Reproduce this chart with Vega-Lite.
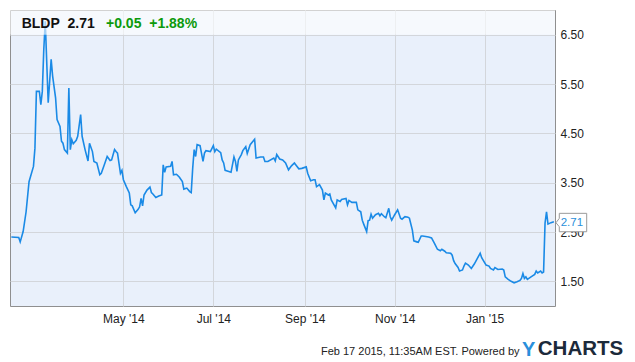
{
  "$schema": "https://vega.github.io/schema/vega-lite/v6.json",
  "width": 545,
  "height": 296,
  "autosize": {"type": "none"},
  "padding": {"left": 10, "top": 10, "right": 80, "bottom": 56},
  "background": "white",
  "title": {"text": "Y", "orient": "top", "anchor": "start", "frame": "group", "offset": 0, "dx": 512, "dy": 366, "baseline": "alphabetic", "fontSize": 20, "fontWeight": "bold", "color": "#2a8fdb", "font": "Liberation Sans"},
  "config": {
    "font": "Liberation Sans",
    "view": {"fill": "#e9f0fb", "stroke": "#8f8f8f", "strokeWidth": 1},
    "axis": {"domain": false, "ticks": false, "tickSize": 0, "gridColor": "#d3d6db", "gridWidth": 1, "labelColor": "#222222", "labelFontSize": 12, "labelFont": "Liberation Sans"}
  },
  "layer": [
    {
      "data": {"values": [
        {"d":"2014-02-14","v":2.40},{"d":"2014-02-19","v":2.39},{"d":"2014-02-20","v":2.30},{"d":"2014-02-22","v":2.51},{"d":"2014-02-24","v":2.91},{"d":"2014-02-26","v":3.52},{"d":"2014-03-01","v":3.83},{"d":"2014-03-02","v":4.20},{"d":"2014-03-03","v":5.35},{"d":"2014-03-05","v":5.35},{"d":"2014-03-06","v":5.08},{"d":"2014-03-07","v":5.35},{"d":"2014-03-08","v":6.20},{"d":"2014-03-09","v":6.77},{"d":"2014-03-11","v":5.12},{"d":"2014-03-13","v":6.00},{"d":"2014-03-14","v":5.66},{"d":"2014-03-16","v":5.22},{"d":"2014-03-17","v":4.78},{"d":"2014-03-19","v":4.64},{"d":"2014-03-20","v":4.34},{"d":"2014-03-21","v":4.30},{"d":"2014-03-22","v":4.17},{"d":"2014-03-24","v":4.10},{"d":"2014-03-25","v":5.42},{"d":"2014-03-26","v":4.17},{"d":"2014-03-27","v":4.37},{"d":"2014-03-28","v":4.29},{"d":"2014-03-30","v":4.36},{"d":"2014-03-31","v":4.44},{"d":"2014-04-02","v":4.88},{"d":"2014-04-03","v":4.44},{"d":"2014-04-05","v":4.17},{"d":"2014-04-07","v":3.94},{"d":"2014-04-08","v":4.30},{"d":"2014-04-10","v":4.13},{"d":"2014-04-11","v":3.93},{"d":"2014-04-13","v":3.90},{"d":"2014-04-15","v":3.66},{"d":"2014-04-16","v":3.69},{"d":"2014-04-18","v":3.86},{"d":"2014-04-20","v":4.03},{"d":"2014-04-22","v":3.95},{"d":"2014-04-23","v":3.96},{"d":"2014-04-25","v":4.17},{"d":"2014-04-26","v":4.13},{"d":"2014-04-27","v":4.10},{"d":"2014-04-29","v":3.69},{"d":"2014-04-30","v":3.75},
        {"d":"2014-05-01","v":3.56},{"d":"2014-05-03","v":3.42},{"d":"2014-05-05","v":3.29},{"d":"2014-05-06","v":3.05},{"d":"2014-05-07","v":3.03},{"d":"2014-05-09","v":2.89},{"d":"2014-05-11","v":2.96},{"d":"2014-05-12","v":3.01},{"d":"2014-05-13","v":3.18},{"d":"2014-05-14","v":3.03},{"d":"2014-05-15","v":3.25},{"d":"2014-05-17","v":3.35},{"d":"2014-05-19","v":3.41},{"d":"2014-05-20","v":3.30},{"d":"2014-05-21","v":3.27},{"d":"2014-05-23","v":3.20},{"d":"2014-05-25","v":3.23},{"d":"2014-05-27","v":3.25},{"d":"2014-05-28","v":3.86},{"d":"2014-05-29","v":3.71},{"d":"2014-05-30","v":3.82},
        {"d":"2014-06-02","v":3.83},{"d":"2014-06-03","v":3.93},{"d":"2014-06-04","v":3.66},{"d":"2014-06-06","v":3.67},{"d":"2014-06-08","v":3.61},{"d":"2014-06-10","v":3.52},{"d":"2014-06-11","v":3.37},{"d":"2014-06-13","v":3.39},{"d":"2014-06-15","v":3.32},{"d":"2014-06-16","v":3.30},{"d":"2014-06-17","v":3.79},{"d":"2014-06-18","v":4.17},{"d":"2014-06-19","v":4.03},{"d":"2014-06-20","v":4.27},{"d":"2014-06-22","v":4.25},{"d":"2014-06-24","v":3.93},{"d":"2014-06-25","v":4.10},{"d":"2014-06-26","v":4.15},{"d":"2014-06-29","v":4.13},
        {"d":"2014-07-01","v":4.25},{"d":"2014-07-02","v":4.13},{"d":"2014-07-03","v":4.18},{"d":"2014-07-06","v":4.11},{"d":"2014-07-07","v":3.96},{"d":"2014-07-08","v":3.90},{"d":"2014-07-09","v":3.75},{"d":"2014-07-11","v":3.73},{"d":"2014-07-13","v":3.71},{"d":"2014-07-15","v":4.02},{"d":"2014-07-16","v":3.93},{"d":"2014-07-17","v":3.73},{"d":"2014-07-18","v":3.96},{"d":"2014-07-20","v":4.07},{"d":"2014-07-21","v":4.15},{"d":"2014-07-23","v":4.23},{"d":"2014-07-24","v":4.09},{"d":"2014-07-26","v":4.27},{"d":"2014-07-29","v":4.38},{"d":"2014-07-30","v":4.00},
        {"d":"2014-08-02","v":4.02},{"d":"2014-08-04","v":4.02},{"d":"2014-08-05","v":3.93},{"d":"2014-08-07","v":3.93},{"d":"2014-08-11","v":4.00},{"d":"2014-08-12","v":3.94},{"d":"2014-08-13","v":4.07},{"d":"2014-08-15","v":3.98},{"d":"2014-08-17","v":3.96},{"d":"2014-08-19","v":3.90},{"d":"2014-08-21","v":3.76},{"d":"2014-08-23","v":3.84},{"d":"2014-08-25","v":3.90},{"d":"2014-08-26","v":3.86},{"d":"2014-08-28","v":3.78},{"d":"2014-08-30","v":3.79},
        {"d":"2014-09-02","v":3.82},{"d":"2014-09-03","v":3.69},{"d":"2014-09-05","v":3.54},{"d":"2014-09-07","v":3.56},{"d":"2014-09-08","v":3.56},{"d":"2014-09-09","v":3.42},{"d":"2014-09-11","v":3.46},{"d":"2014-09-13","v":3.35},{"d":"2014-09-14","v":3.15},{"d":"2014-09-15","v":3.29},{"d":"2014-09-17","v":3.25},{"d":"2014-09-18","v":3.27},{"d":"2014-09-19","v":3.15},{"d":"2014-09-22","v":2.99},{"d":"2014-09-23","v":3.15},{"d":"2014-09-25","v":3.12},{"d":"2014-09-26","v":3.16},{"d":"2014-09-29","v":3.18},{"d":"2014-09-30","v":3.05},
        {"d":"2014-10-01","v":3.14},{"d":"2014-10-03","v":3.10},{"d":"2014-10-06","v":3.10},{"d":"2014-10-07","v":2.95},{"d":"2014-10-09","v":2.91},{"d":"2014-10-10","v":2.74},{"d":"2014-10-11","v":2.66},{"d":"2014-10-13","v":2.51},{"d":"2014-10-14","v":2.73},{"d":"2014-10-15","v":2.74},{"d":"2014-10-16","v":2.86},{"d":"2014-10-17","v":2.78},{"d":"2014-10-19","v":2.85},{"d":"2014-10-21","v":2.88},{"d":"2014-10-22","v":2.83},{"d":"2014-10-23","v":2.87},{"d":"2014-10-25","v":2.81},{"d":"2014-10-26","v":2.79},{"d":"2014-10-28","v":2.98},{"d":"2014-10-29","v":2.81},{"d":"2014-10-30","v":2.74},
        {"d":"2014-11-01","v":2.85},{"d":"2014-11-03","v":2.95},{"d":"2014-11-05","v":2.78},{"d":"2014-11-06","v":2.76},{"d":"2014-11-08","v":2.81},{"d":"2014-11-10","v":2.80},{"d":"2014-11-11","v":2.78},{"d":"2014-11-13","v":2.54},{"d":"2014-11-14","v":2.32},{"d":"2014-11-16","v":2.30},{"d":"2014-11-17","v":2.29},{"d":"2014-11-19","v":2.42},{"d":"2014-11-20","v":2.42},{"d":"2014-11-24","v":2.40},{"d":"2014-11-26","v":2.38},{"d":"2014-11-28","v":2.27},{"d":"2014-11-30","v":2.15},
        {"d":"2014-12-02","v":2.12},{"d":"2014-12-03","v":2.15},{"d":"2014-12-05","v":2.11},{"d":"2014-12-06","v":2.08},{"d":"2014-12-09","v":2.07},{"d":"2014-12-10","v":2.03},{"d":"2014-12-11","v":1.92},{"d":"2014-12-12","v":1.86},{"d":"2014-12-14","v":1.78},{"d":"2014-12-15","v":1.71},{"d":"2014-12-17","v":1.73},{"d":"2014-12-18","v":1.81},{"d":"2014-12-19","v":1.87},{"d":"2014-12-21","v":1.83},{"d":"2014-12-23","v":1.76},{"d":"2014-12-25","v":1.85},{"d":"2014-12-27","v":1.96},{"d":"2014-12-29","v":2.07},{"d":"2014-12-30","v":1.98},
        {"d":"2015-01-02","v":1.83},{"d":"2015-01-04","v":1.81},{"d":"2015-01-05","v":1.76},{"d":"2015-01-07","v":1.73},{"d":"2015-01-08","v":1.78},{"d":"2015-01-10","v":1.74},{"d":"2015-01-13","v":1.75},{"d":"2015-01-14","v":1.73},{"d":"2015-01-15","v":1.59},{"d":"2015-01-17","v":1.54},{"d":"2015-01-19","v":1.50},{"d":"2015-01-21","v":1.47},{"d":"2015-01-23","v":1.49},{"d":"2015-01-25","v":1.52},{"d":"2015-01-26","v":1.56},{"d":"2015-01-27","v":1.66},{"d":"2015-01-28","v":1.56},{"d":"2015-01-29","v":1.59},{"d":"2015-01-30","v":1.54},
        {"d":"2015-02-01","v":1.58},{"d":"2015-02-02","v":1.60},{"d":"2015-02-04","v":1.64},{"d":"2015-02-05","v":1.71},{"d":"2015-02-06","v":1.67},{"d":"2015-02-08","v":1.71},{"d":"2015-02-09","v":1.67},{"d":"2015-02-10","v":1.69},{"d":"2015-02-11","v":2.68},{"d":"2015-02-12","v":2.91},{"d":"2015-02-13","v":2.66},{"d":"2015-02-15","v":2.69},{"d":"2015-02-17","v":2.71}
      ]},
      "mark": {"type": "line", "color": "#1a8ae6", "strokeWidth": 1.6},
      "encoding": {
        "x": {"field": "d", "type": "temporal",
          "scale": {"type": "utc", "domain": [{"year": 2014, "month": 2, "date": 13, "hours": 2, "utc": true}, {"year": 2015, "month": 2, "date": 17, "hours": 18, "utc": true}]},
          "axis": {"orient": "bottom", "format": "%b '%y", "labelPadding": 7, "grid": true,
            "values": [{"year": 2014, "month": 5, "date": 1, "utc": true}, {"year": 2014, "month": 7, "date": 1, "utc": true}, {"year": 2014, "month": 9, "date": 1, "utc": true}, {"year": 2014, "month": 11, "date": 1, "utc": true}, {"year": 2015, "month": 1, "date": 1, "utc": true}],
            "title": "Feb 17 2015, 11:35AM EST. Powered by", "titleX": 509, "titleY": 48.5, "titleAlign": "right", "titleAnchor": null, "titleBaseline": "alphabetic", "titleFontSize": 11, "titleFontWeight": "normal", "titleColor": "#222222", "titleFont": "Liberation Sans"}},
        "y": {"field": "v", "type": "quantitative",
          "scale": {"domain": [1, 7], "nice": false, "zero": false},
          "axis": {"orient": "right", "values": [1.5, 2.5, 3.5, 4.5, 5.5, 6.5], "format": ".2f", "labelPadding": 5, "grid": true,
            "title": "CHARTS", "titleAngle": 0, "titleX": -17.7, "titleY": 344.7, "titleAlign": "left", "titleBaseline": "alphabetic", "titleFontSize": 20.5, "titleFontWeight": "bold", "titleColor": "#1c2a3a", "titleFont": "Liberation Sans"}}
      }
    },
    {
      "data": {"values": [{}]},
      "mark": {"type": "rect", "fill": "white", "opacity": 0.6},
      "encoding": {
        "y": {"datum": 6.5, "type": "quantitative"},
        "y2": {"datum": 7}
      }
    },
    {
      "data": {"values": [{}]},
      "mark": {"type": "text", "align": "left", "baseline": "alphabetic", "fontSize": 14, "fontWeight": "bold", "color": "#111111", "font": "Liberation Sans"},
      "encoding": {
        "x": {"datum": {"year": 2014, "month": 2, "date": 21, "utc": true}, "type": "temporal"},
        "y": {"datum": 6.64, "type": "quantitative"},
        "text": {"value": "BLDP\u00a0\u00a02.71"}
      }
    },
    {
      "data": {"values": [{}]},
      "mark": {"type": "text", "align": "left", "baseline": "alphabetic", "fontSize": 14, "fontWeight": "bold", "color": "#0c9a0c", "font": "Liberation Sans"},
      "encoding": {
        "x": {"datum": {"year": 2014, "month": 4, "date": 19, "hours": 5, "utc": true}, "type": "temporal"},
        "y": {"datum": 6.64, "type": "quantitative"},
        "text": {"value": "+0.05\u00a0\u00a0+1.88%"}
      }
    },
    {
      "data": {"values": [{}]},
      "mark": {"type": "point", "filled": true, "fill": "white", "stroke": "#9a9a9a", "strokeWidth": 1, "opacity": 1, "size": 1600,
        "shape": "M0.105,0.055L0.27,-0.165L0.27,-0.415L1.64,-0.415L1.64,0.505L0.27,0.505L0.27,0.255Z"},
      "encoding": {
        "x": {"datum": {"year": 2015, "month": 2, "date": 17, "utc": true}, "type": "temporal"},
        "y": {"datum": 2.71, "type": "quantitative"}
      }
    },
    {
      "data": {"values": [{}]},
      "mark": {"type": "text", "align": "center", "baseline": "middle", "dx": 18, "dy": 1.5, "fontSize": 11.5, "color": "#2a8fdb", "font": "Liberation Sans"},
      "encoding": {
        "x": {"datum": {"year": 2015, "month": 2, "date": 17, "utc": true}, "type": "temporal"},
        "y": {"datum": 2.71, "type": "quantitative"},
        "text": {"value": "2.71"}
      }
    }
  ]
}
